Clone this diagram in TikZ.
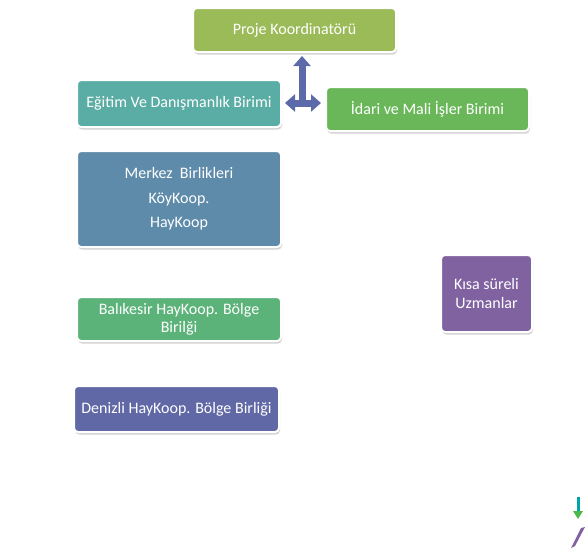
\documentclass[tikz,border=0pt]{standalone}
\usepackage{fontspec}
\setmainfont{Carlito}
\usepackage{xcolor}
\usepackage{tikz}
\usetikzlibrary{shadows,arrows.meta}
\definecolor{olivebox}{HTML}{9BBB59}
\definecolor{tealbox}{HTML}{5AADA4}
\definecolor{greenbox}{HTML}{6AB75A}
\definecolor{steelbox}{HTML}{5E8BAA}
\definecolor{purplebox}{HTML}{8062A1}
\definecolor{mintbox}{HTML}{5CB37A}
\definecolor{indigobox}{HTML}{6068A6}
\definecolor{arrowblue}{HTML}{5C6AAA}

\begin{document}
\begin{tikzpicture}[
  x=1pt, y=-1pt,
  unit/.style={rectangle, rounded corners=4pt, draw=white, line width=2pt,
    text=white, font=\fontsize{16}{24.5}\selectfont, align=center, inner sep=2pt,
    drop shadow={opacity=0.35, shadow xshift=1pt, shadow yshift=-2.5pt}},
  conn/.style={draw=arrowblue, line width=7pt},
  tip/.style={-{Triangle[width=17pt,length=10pt]}},
]
\useasboundingbox (0,0) rectangle (588,555);
% top
\node[unit, fill=olivebox, minimum width=203pt, minimum height=44pt] (coord) at (294.5,30) {Proje Koordinatörü};
% units
\node[unit, fill=tealbox, minimum width=204pt, minimum height=47pt] (egitim) at (179,103.5) {Eğitim Ve Danışmanlık Birimi};
\node[unit, fill=greenbox, minimum width=203pt, minimum height=44pt] (idari) at (427.5,109) {İdari ve Mali İşler Birimi};
\node[unit, fill=steelbox, minimum width=204pt, minimum height=96pt] (merkez) at (179,199) {Merkez~ Birlikleri\\KöyKoop.\\HayKoop};
\node[unit, fill=purplebox, minimum width=91pt, minimum height=77pt, font=\fontsize{16}{19}\selectfont] (kisa) at (486.5,293.5) {Kısa süreli\\Uzmanlar};
\node[unit, fill=mintbox, minimum width=204pt, minimum height=44pt, font=\fontsize{16}{18}\selectfont] (balik) at (179,319) {Balıkesir HayKoop. Bölge\\Birilği};
\node[unit, fill=indigobox, minimum width=205pt, minimum height=46pt] (denizli) at (176.5,409) {Denizli HayKoop. Bölge Birliği};
% arrow
\coordinate (hub) at (302,103);
\coordinate (up) at (302,56);
\coordinate (lt) at ([xshift=3pt]egitim.east |- hub);
\coordinate (rt) at ([xshift=-4pt]idari.west |- hub);
\draw[conn, tip] ([yshift=3.5pt]hub) -- (up);
\draw[conn, {Triangle[width=17pt,length=10pt]}-{Triangle[width=17pt,length=10pt]}] (lt) -- (rt);
% corner fragments
\draw[draw=teal!70!cyan, line width=3pt] (578,497) -- (578,512);
\fill[green!60!black!70] (573,511) -- (583,511) -- (578,519) -- cycle;
\fill[purplebox] (571,548) -- (581,528) -- (585,527) -- (575,546) -- cycle;
\end{tikzpicture}
\end{document}
